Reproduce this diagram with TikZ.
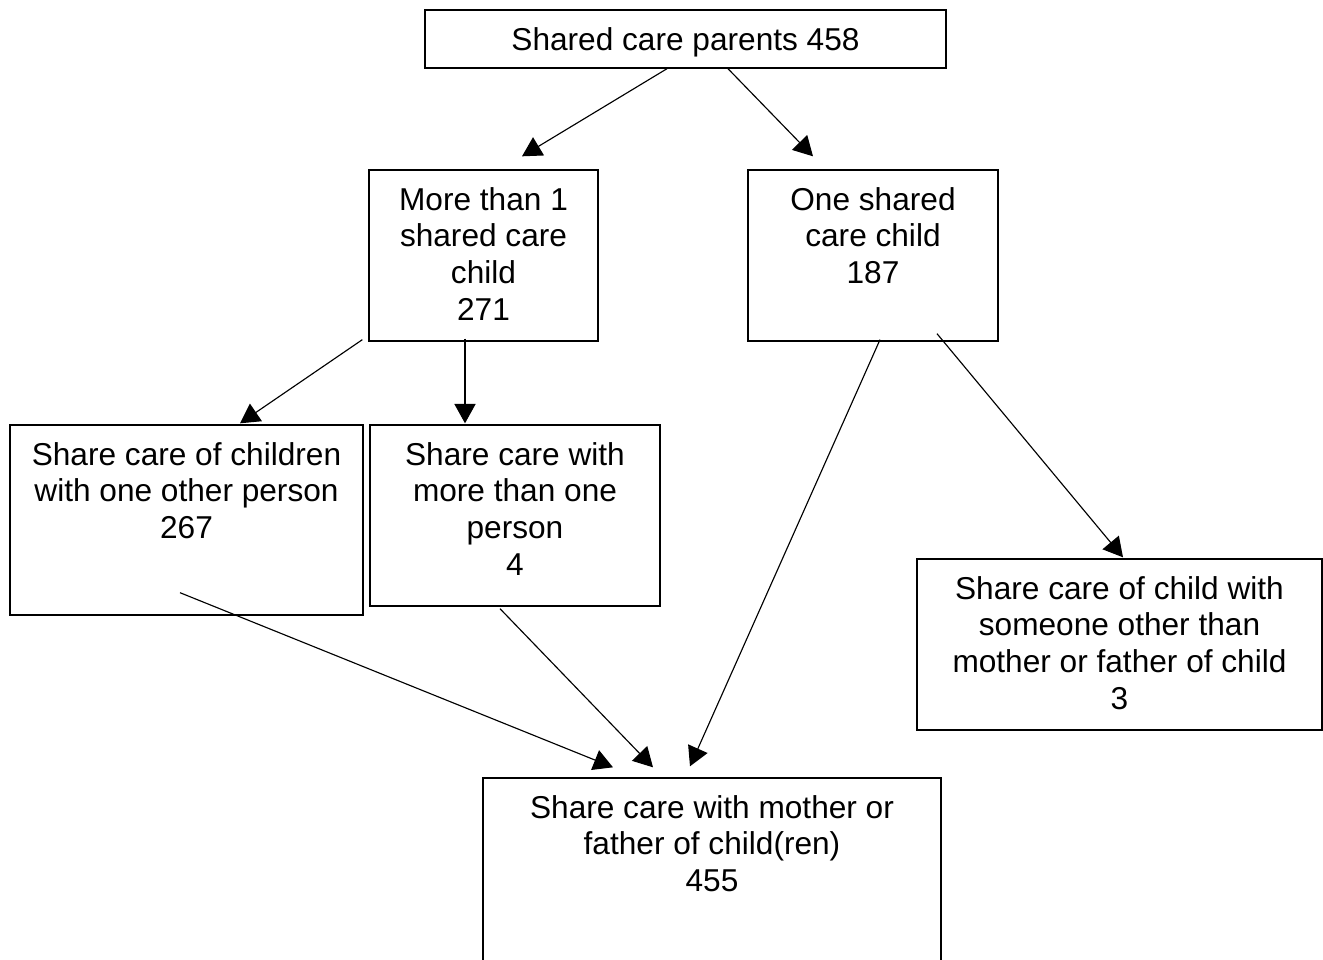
\documentclass[tikz,border=0pt]{standalone}
\usepackage{fontspec}
\setmainfont{Liberation Sans}
\usetikzlibrary{positioning,arrows.meta,calc}

\begin{document}
\begin{tikzpicture}[
  x=0.02cm, y=-0.02cm,
  >={Triangle[length=11pt,width=12pt]},
  cbox/.style={rectangle, draw=black, line width=0.8pt, inner sep=0pt},
  ctext/.style={align=center, inner sep=0pt, font=\fontsize{18}{21}\selectfont},
  link/.style={->, line width=0.65pt}
]
\useasboundingbox (0,0) rectangle (1323,960);
% boxes
\node[cbox, minimum width=10.42cm, minimum height=1.16cm] (top) at (685.5,39) {};
\node[cbox, minimum width=4.58cm, minimum height=3.42cm] (more) at (483.5,255.5) {};
\node[cbox, minimum width=5.0cm, minimum height=3.42cm] (one) at (873,255.5) {};
\node[cbox, minimum width=7.06cm, minimum height=3.8cm] (withone) at (186.5,520) {};
\node[cbox, minimum width=5.8cm, minimum height=3.62cm] (withmore) at (515,515.5) {};
\node[cbox, minimum width=8.1cm, minimum height=3.42cm] (someone) at (1119.5,644.5) {};
\node[cbox, minimum width=9.16cm, minimum height=4.24cm] (mother) at (712,884) {};
% texts
\node[ctext, below=0.35cm of top.north] (top-t) {Shared care parents 458};
\node[ctext, below=0.35cm of more.north] (more-t) {More than 1\\shared care\\child\\271};
\node[ctext, below=0.35cm of one.north] (one-t) {One shared\\care child\\187};
\node[ctext, below=0.35cm of withone.north] (withone-t) {Share care of children\\with one other person\\267};
\node[ctext, below=0.35cm of withmore.north] (withmore-t) {Share care with\\more than one\\person\\4};
\node[ctext, below=0.35cm of someone.north] (someone-t) {Share care of child with\\someone other than\\mother or father of child\\3};
\node[ctext, below=0.35cm of mother.north] (mother-t) {Share care with mother or\\father of child(ren)\\455};
% arrows
\draw[link] ($(top.south)+(-18.5,0)$) -- ($(more.north)+(38.5,-13)$);
\draw[link] ($(top.south)+(42.5,0)$) -- ($(one.north)+(-60,-13)$);
\draw[link] ($(more.south west)+(-6,-2)$) -- ($(withone.north)+(53.5,-1)$);
\draw[link] ($(more.south)+(-18.5,-3)$) -- ($(withmore.north)+(-50,-1)$);
\draw[link] ($(one.south)+(7,-2)$) -- ($(mother.north)+(-22,-11)$);
\draw[link] ($(one.south)+(64,-8)$) -- ($(someone.north)+(3.5,-1)$);
\draw[link] ($(withone.south)+(-6.5,-23)$) -- ($(mother.north)+(-99,-10)$);
\draw[link] ($(withmore.south)+(-15,2)$) -- ($(mother.north)+(-59,-10)$);
\end{tikzpicture}
\end{document}
